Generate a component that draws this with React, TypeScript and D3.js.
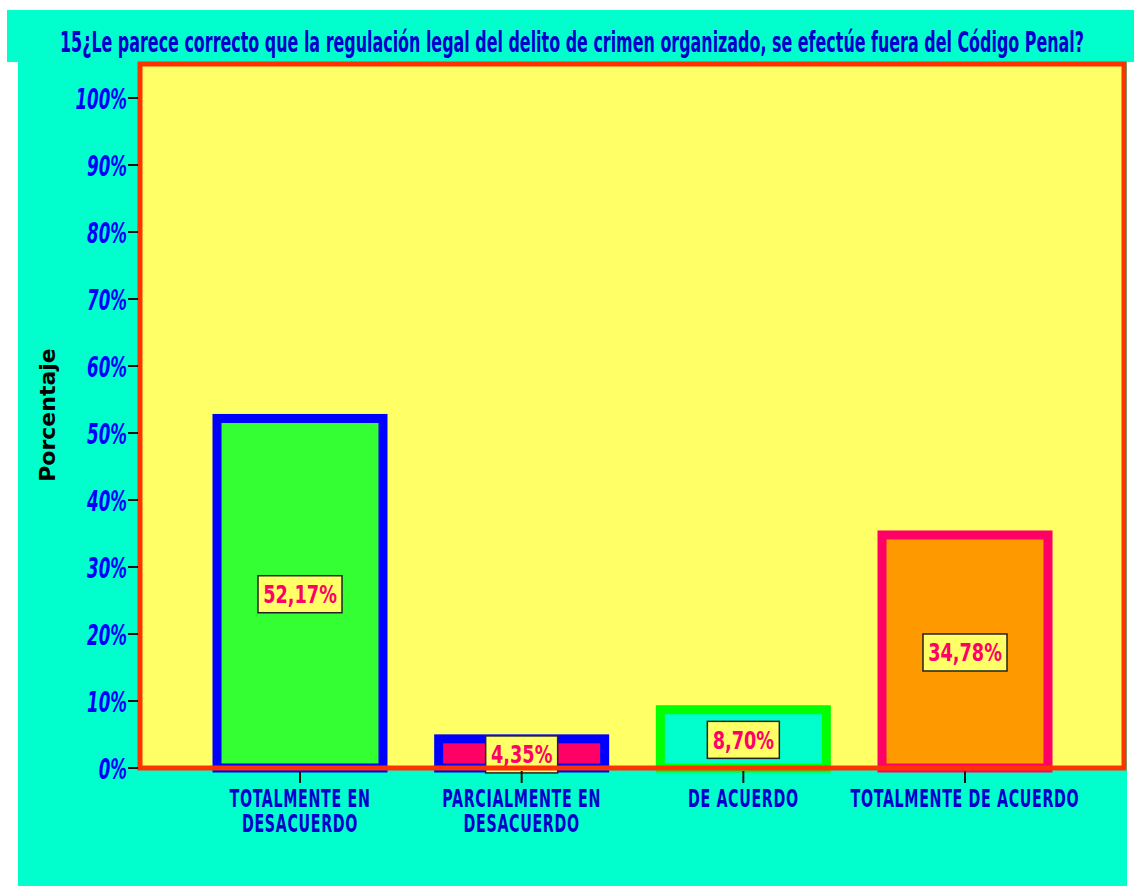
import React, { useEffect } from "react";
import * as d3 from "d3";

const categories = ["TOTALMENTE EN|DESACUERDO", "PARCIALMENTE EN|DESACUERDO", "DE ACUERDO", "TOTALMENTE DE ACUERDO"];
const values = [52.17, 4.35, 8.7, 34.78];
const valueLabels = ["52,17%", "4,35%", "8,70%", "34,78%"];
const fills = ["#33FF33", "#FF0066", "#00FFCC", "#FF9900"];
const strokes = ["#0000FF", "#0000FF", "#00FF00", "#FF0066"];
const yTicks = [0, 10, 20, 30, 40, 50, 60, 70, 80, 90, 100];
const title = "15¿Le parece correcto que la regulación legal del delito de crimen organizado, se efectúe fuera del Código Penal?";
const yTitle = "Porcentaje";

const W = 1134, H = 886;
const plot = { left: 140, right: 1124, top: 64, bottom: 768 };
const cond = "'DejaVu Sans Condensed', 'Liberation Sans Narrow', sans-serif";

export default function App() {
  useEffect(() => {
    document.body.style.margin = "0";
  }, []);
  const y = d3.scaleLinear().domain([0, 100]).range([768, 98]);
  const x = d3.scalePoint<string>().domain(categories).range([300, 965]);
  const barW = 166;

  return (
    <svg width={W} height={H} style={{ display: "block" }}>
      <rect x={0} y={0} width={W} height={H} fill="#FFFFFF" />
      <rect x={7} y={10} width={W - 7} height={52} fill="#00FFCC" />
      <rect x={18} y={62} width={1109} height={H - 62} fill="#00FFCC" />
      <text x={60} y={52} fontFamily={cond} fontWeight="bold" fontSize={28} fill="#0000CC"
        textLength={1024} lengthAdjust="spacingAndGlyphs">{title}</text>
      <rect x={plot.left} y={plot.top} width={plot.right - plot.left} height={plot.bottom - plot.top} fill="#FFFF66" />
      {categories.map((c, i) => {
        const cx = x(c)!;
        const top = y(values[i]);
        return (
          <rect key={c} x={cx - barW / 2} y={top} width={barW} height={y(0) - top}
            fill={fills[i]} stroke={strokes[i]} strokeWidth={9} />
        );
      })}
      {categories.map((c, i) => {
        const cx = x(c)!;
        const cy = (y(values[i]) + y(0)) / 2 + 1;
        const bw = valueLabels[i].length > 5 ? 84 : 72;
        return (
          <g key={c + "l"}>
            <rect x={cx - bw / 2} y={cy - 18.5} width={bw} height={37} fill="#FFFF66" stroke="#222" strokeWidth={1.5} />
            <g transform={`translate(${cx},${cy + 9}) scale(0.82,1)`}>
              <text x={0} y={0} textAnchor="middle" fontFamily={cond} fontWeight="bold" fontSize={24}
                fill="#FF0066">{valueLabels[i]}</text>
            </g>
          </g>
        );
      })}
      <rect x={plot.left} y={plot.top} width={plot.right - plot.left} height={plot.bottom - plot.top}
        fill="none" stroke="#FF3300" strokeWidth={5} />
      {yTicks.map((t) => (
        <g key={t}>
          <line x1={128} x2={138} y1={y(t)} y2={y(t)} stroke="#111" strokeWidth={2} />
          <g transform={`translate(127,${y(t) + 10.5}) scale(0.64,1)`}>
            <text x={0} y={0} textAnchor="end" fontFamily={cond} fontWeight="bold" fontStyle="italic"
              fontSize={29} fill="#0000FF">{t + "%"}</text>
          </g>
        </g>
      ))}
      {categories.map((c) => {
        const cx = x(c)!;
        const lines = c.split("|");
        return (
          <g key={c + "x"}>
            <line x1={cx} x2={cx} y1={771} y2={783} stroke="#111" strokeWidth={2} />
            {lines.map((ln, j) => (
              <g key={j} transform={`translate(${cx},${807 + j * 25}) scale(0.66,1)`}>
                <text x={0} y={0} textAnchor="middle" fontFamily={cond} fontWeight="bold"
                  fontSize={24} fill="#0000CC" letterSpacing={1}>{ln}</text>
              </g>
            ))}
          </g>
        );
      })}
      <text transform={`translate(55,415) rotate(-90)`} textAnchor="middle" fontFamily="'DejaVu Sans', sans-serif"
        fontWeight="bold" fontSize={22} fill="#000">{yTitle}</text>
    </svg>
  );
}
